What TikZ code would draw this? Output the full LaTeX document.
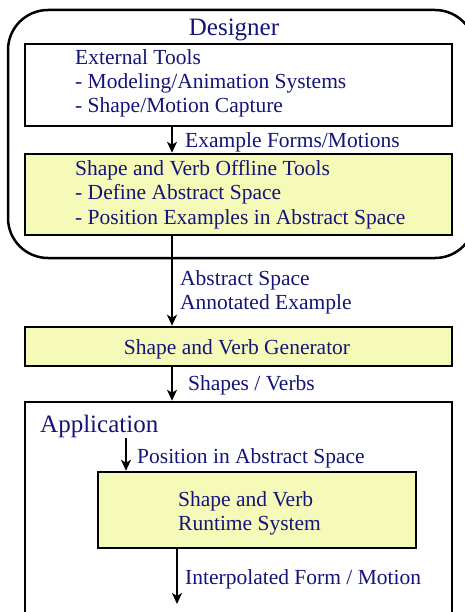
\documentclass[tikz,border=0pt]{standalone}
\usepackage{fontspec}
\setmainfont{Liberation Serif}
\usetikzlibrary{arrows.meta}
\definecolor{navyink}{RGB}{20,20,120}
\definecolor{paleyellow}{RGB}{245,250,185}

\begin{document}
\begin{tikzpicture}
  [
    x=1pt, y=-1pt,
    >={Stealth[length=11pt,width=10pt,inset=3pt]},
    box/.style     = {draw, line width=2.5pt, inner sep=0pt},
    toolbox/.style = {box, fill=paleyellow},
    txt/.style     = {text=navyink, font=\fontsize{21.5}{24}\selectfont, inner sep=0pt, anchor=base west},
    heading/.style = {txt, font=\fontsize{25}{30}\selectfont},
    flow/.style    = {->, line width=2pt},
  ]

\clip (0,0) rectangle (465,612);

%Main flow line
\coordinate (axis) at (172,0);

%Designer frame
\node[box, rounded corners=40pt, minimum width=467pt, minimum height=248pt] (designer) at (241.5,134) {};
\node[heading, anchor=base] (designertitle) at (234,36) {Designer};

%External tools
\node[box, minimum width=427pt, minimum height=82pt] (ext) at (238.5,85) {};
\foreach [count=\i] \t in {External Tools,- Modeling/Animation Systems,- Shape/Motion Capture}
{
\node[txt] (ext\i) at (75,{41+24*\i}) {\t};
}

%Offline tools
\node[toolbox, minimum width=427pt, minimum height=81pt] (off) at (238.5,194.5) {};
\foreach [count=\i] \t in {Shape and Verb Offline Tools,- Define Abstract Space,- Position Examples in Abstract Space}
{
\node[txt] (off\i) at (75,{152+24*\i}) {\t};
}

\draw[flow] (ext.south -| axis) -- (off.north -| axis);
\node[txt] (formslbl) at (185,148) {Example Forms/Motions};

%Generator
\node[toolbox, minimum width=427pt, minimum height=39pt] (gen) at (238.5,346.5) {};
\node[txt, anchor=base] (gentext) at (237,354) {Shape and Verb Generator};

\draw[flow] (off.south -| axis) -- (gen.north -| axis);
\node[txt] (abslbl1) at (180,285) {Abstract Space};
\node[txt] (abslbl2) at (180,309) {Annotated Example};

%Application
\node[box, minimum width=427pt, minimum height=238pt] (app) at (238.5,521) {};
\node[heading] (apptitle) at (40,432) {Application};

\draw[flow] (gen.south -| axis) -- (app.north -| axis);
\node[txt] (shapeslbl) at (188,390) {Shapes / Verbs};

%Runtime system
\node[toolbox, minimum width=318pt, minimum height=76pt] (rt) at (257,510) {};
\node[txt] (rt1) at (178,506) {Shape and Verb};
\node[txt] (rt2) at (178,530) {Runtime System};

\coordinate (posstart) at (126,438);
\draw[flow] (posstart) -- (posstart |- rt.north);
\node[txt] (poslbl) at (137,463) {Position in Abstract Space};

\coordinate (outend) at (177,604);
\draw[flow] (rt.south -| outend) -- (outend);
\node[txt] (outlbl) at (185,584) {Interpolated Form / Motion};

\end{tikzpicture}
\end{document}
